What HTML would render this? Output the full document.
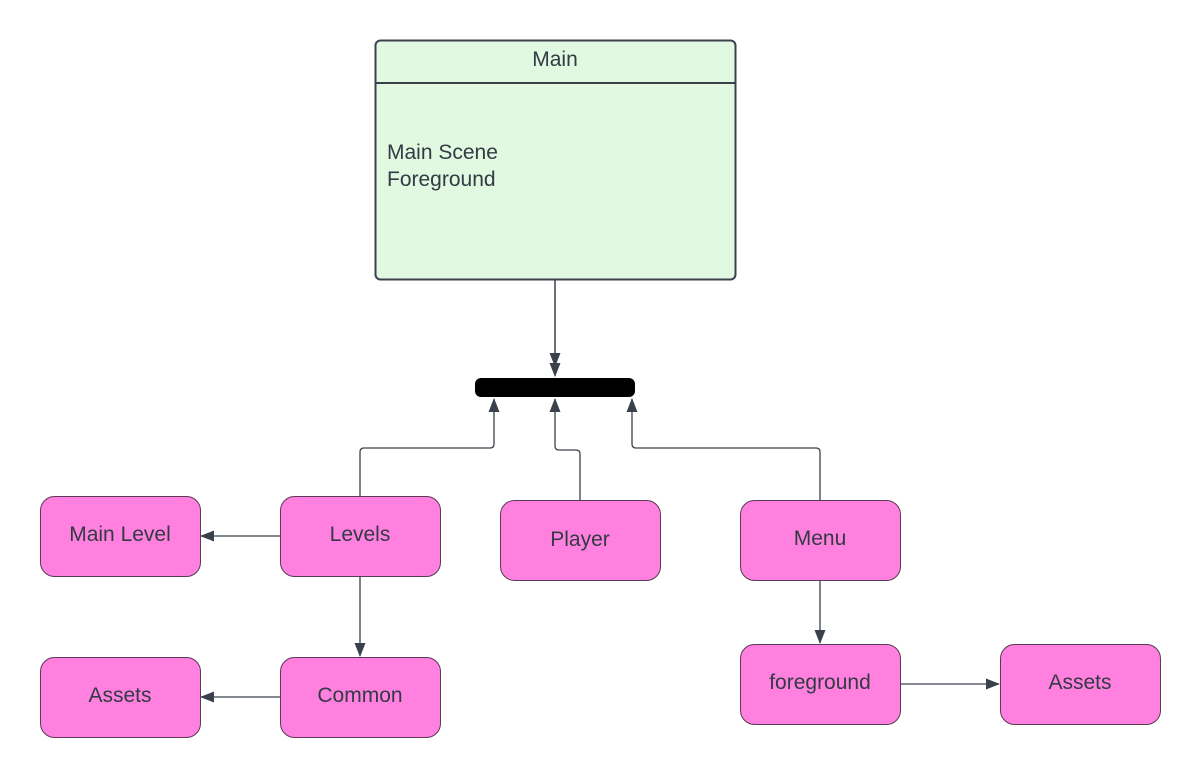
<!DOCTYPE html>
<html><head><style>
body{margin:0;background:#fff;}
svg text{font-family:"Liberation Sans",sans-serif;fill:#333a45;}
</style></head><body>
<svg width="1200" height="778" viewBox="0 0 1200 778" xmlns="http://www.w3.org/2000/svg">
<defs>
<marker id="a" markerWidth="14" markerHeight="14" refX="13" refY="7" orient="auto" markerUnits="userSpaceOnUse">
<path d="M0,1.5 L14,7 L0,12.5 Z" fill="#3a414c"/></marker>
</defs>
<rect x="375.5" y="40.5" width="360" height="239" rx="5" fill="#e0f9e0" stroke="#3a414c" stroke-width="2"/>
<line x1="375" y1="83" x2="735" y2="83" stroke="#3a414c" stroke-width="2"/>
<text x="555" y="66" font-size="21" text-anchor="middle">Main</text>
<text x="387" y="159" font-size="21">Main Scene</text>
<text x="387" y="186" font-size="21">Foreground</text>
<rect x="475" y="378" width="160" height="19" rx="6" fill="#000"/>
<g stroke="#3a414c" stroke-width="1.3" fill="none">
<path d="M555,280 V376" marker-end="url(#a)"/>
<path d="M555,280 V366" marker-end="url(#a)"/>
<path d="M360,496 V452 Q360,448 364,448 H490 Q494,448 494,444 V399" marker-end="url(#a)"/>
<path d="M580,500 V454 Q580,450 576,450 H559 Q555,450 555,446 V399" marker-end="url(#a)"/>
<path d="M820,500 V452 Q820,448 816,448 H636 Q632,448 632,444 V399" marker-end="url(#a)"/>
<path d="M280,536 H201" marker-end="url(#a)"/>
<path d="M360,576 V656" marker-end="url(#a)"/>
<path d="M280,697 H201" marker-end="url(#a)"/>
<path d="M820,580 V643" marker-end="url(#a)"/>
<path d="M900,684 H999" marker-end="url(#a)"/>
</g>
<g fill="#ff80de" stroke="#5a3a55" stroke-width="1">
<rect x="40.5" y="496.5" width="160" height="80" rx="14"/>
<rect x="280.5" y="496.5" width="160" height="80" rx="14"/>
<rect x="40.5" y="657.5" width="160" height="80" rx="14"/>
<rect x="280.5" y="657.5" width="160" height="80" rx="14"/>
<rect x="500.5" y="500.5" width="160" height="80" rx="14"/>
<rect x="740.5" y="500.5" width="160" height="80" rx="14"/>
<rect x="740.5" y="644.5" width="160" height="80" rx="14"/>
<rect x="1000.5" y="644.5" width="160" height="80" rx="14"/>
</g>
<g font-size="21" text-anchor="middle">
<text x="120" y="541">Main Level</text>
<text x="360" y="541">Levels</text>
<text x="120" y="702">Assets</text>
<text x="360" y="702">Common</text>
<text x="580" y="546">Player</text>
<text x="820" y="545">Menu</text>
<text x="820" y="689">foreground</text>
<text x="1080" y="689">Assets</text>
</g>
</svg>
</body></html>
